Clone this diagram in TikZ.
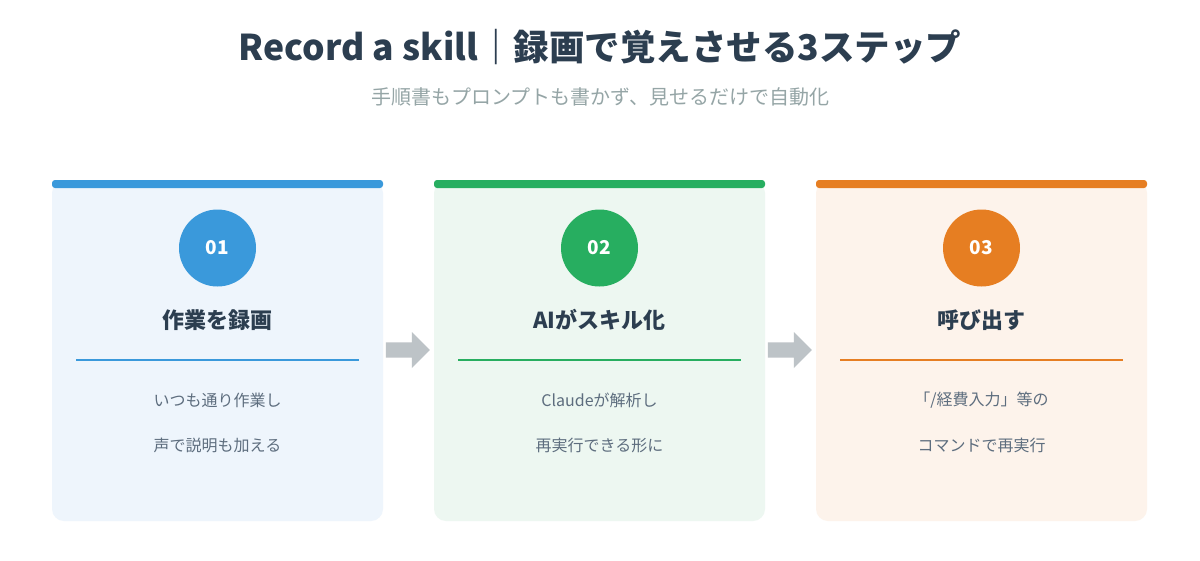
\documentclass[tikz,border=0pt]{standalone}
\usepackage{fontspec}
\setmainfont{Noto Sans CJK JP}
\usetikzlibrary{shapes.arrows}
\definecolor{tc}{HTML}{2C3E50}
\definecolor{sc}{HTML}{95A5A6}
\definecolor{bc}{HTML}{5D6D7E}
\definecolor{ac}{HTML}{BDC3C7}
\definecolor{c1}{HTML}{3A99DB}\definecolor{b1}{HTML}{EEF5FC}
\definecolor{c2}{HTML}{27AE60}\definecolor{b2}{HTML}{EDF7F1}
\definecolor{c3}{HTML}{E67E22}\definecolor{b3}{HTML}{FDF3EB}
\tikzset{
 num/.style={circle,minimum size=77pt,inner sep=0pt,text=white,font=\fontsize{19}{19}\selectfont\bfseries},
 head/.style={text=tc,font=\fontsize{22}{22}\selectfont\bfseries},
 body/.style={text=bc,font=\fontsize{16}{16}\selectfont},
 arr/.style={single arrow,fill=ac,minimum height=44pt,minimum width=36pt,single arrow head extend=7pt,inner sep=5pt}
}
\begin{document}
\begin{tikzpicture}[x=1pt,y=-1pt]
\useasboundingbox[fill=white] (0,0) rectangle (1200,560);
\node[text=tc,font=\fontsize{35.5}{35.5}\selectfont\bfseries] (title) at (600,47) {Record a skill｜録画で覚えさせる3ステップ};
\node[text=sc,font=\fontsize{20}{20}\selectfont] (sub) at (600,97) {手順書もプロンプトも書かず、見せるだけで自動化};
\foreach \i/\x/\n/\h/\a/\b in {1/52/01/作業を録画/いつも通り作業し/声で説明も加える,
 2/434/02/AIがスキル化/Claudeが解析し/再実行できる形に,
 3/816/03/呼び出す/{「/経費入力」等の}/コマンドで再実行}{
 \fill[b\i,rounded corners=12pt] (\x,181) rectangle ++(331,340);
 \fill[c\i,rounded corners=3pt] (\x,180) rectangle ++(331,8);
 \node[num,fill=c\i] (n\i) at (\x+165.5,248) {\n};
 \node[head] (h\i) at (\x+165.5,320) {\h};
 \draw[c\i,line width=1.2pt] (\x+24,360) -- (\x+307,360);
 \node[body] (a\i) at (\x+165.5,400) {\a};
 \node[body] (b\i) at (\x+165.5,445) {\b};
}
\node[arr] (ar1) at (404,350) {};
\node[arr] (ar2) at (786,350) {};
\end{tikzpicture}
\end{document}
